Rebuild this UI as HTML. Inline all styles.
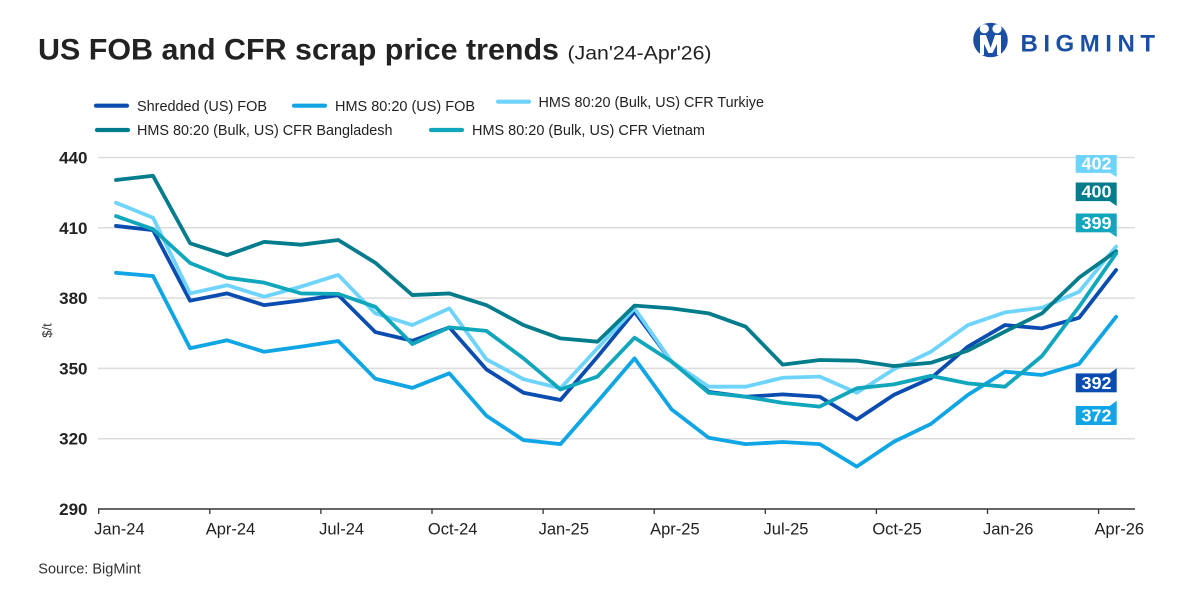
<!DOCTYPE html>
<html>
<head>
<meta charset="utf-8">
<style>
  html, body { margin:0; padding:0; background:#ffffff; }
  body { width:1200px; height:600px; overflow:hidden; }
  svg { display:block; font-family:"Liberation Sans", Arial, sans-serif; }
</style>
</head>
<body>
<svg width="1200" height="600" viewBox="0 0 1200 600" xmlns="http://www.w3.org/2000/svg">
  <rect x="0" y="0" width="1200" height="600" fill="#ffffff"/>

  <!-- Title -->
  <text x="38" y="59.5" font-size="30" font-weight="bold" fill="#222222" textLength="521" lengthAdjust="spacingAndGlyphs">US FOB and CFR scrap price trends</text>
  <text x="567.5" y="59.5" font-size="19.5" fill="#222222" textLength="144" lengthAdjust="spacingAndGlyphs">(Jan'24-Apr'26)</text>

  <!-- Logo -->
  <g>
    <circle cx="990.5" cy="40" r="17.3" fill="#1a4fa3"/>
    <circle cx="984.3" cy="28.8" r="4.6" fill="#ffffff"/>
    <circle cx="997" cy="28.8" r="4.6" fill="#ffffff"/>
    <path d="M980 35 L986 35 L990.6 48 L995 35 L1001 35 L1001 55 L997 55 L997 44 L992.5 53 L988.5 53 L984 44 L984 55 L980 55 Z" fill="#ffffff"/>
    <text x="1020.5" y="51.7" font-size="24" font-weight="bold" fill="#1a4fa3" textLength="134.5" lengthAdjust="spacing">BIGMINT</text>
  </g>

  <!-- Legend -->
  <g stroke-width="4.2" stroke-linecap="round">
    <line x1="96" y1="105.7" x2="127" y2="105.7" stroke="#0a4cb0"/>
    <line x1="294" y1="105.7" x2="325" y2="105.7" stroke="#10a5e4"/>
    <line x1="498" y1="101.7" x2="529" y2="101.7" stroke="#6fd4fc"/>
    <line x1="97" y1="130" x2="128" y2="130" stroke="#037c8c"/>
    <line x1="431" y1="130" x2="462" y2="130" stroke="#10a6bb"/>
  </g>
  <g font-size="14.5" fill="#222222">
    <text x="137" y="110.8" textLength="130" lengthAdjust="spacingAndGlyphs">Shredded (US) FOB</text>
    <text x="335" y="110.8" textLength="140" lengthAdjust="spacingAndGlyphs">HMS 80:20 (US) FOB</text>
    <text x="538.5" y="106.8" textLength="225.5" lengthAdjust="spacingAndGlyphs">HMS 80:20 (Bulk, US) CFR Turkiye</text>
    <text x="137" y="135" textLength="255.5" lengthAdjust="spacingAndGlyphs">HMS 80:20 (Bulk, US) CFR Bangladesh</text>
    <text x="472" y="135" textLength="233" lengthAdjust="spacingAndGlyphs">HMS 80:20 (Bulk, US) CFR Vietnam</text>
  </g>

  <!-- Gridlines -->
  <g stroke="#dcdcdc" stroke-width="1.5">
    <line x1="98" y1="157.5" x2="1135" y2="157.5"/>
    <line x1="98" y1="227.8" x2="1135" y2="227.8"/>
    <line x1="98" y1="298.1" x2="1135" y2="298.1"/>
    <line x1="98" y1="368.4" x2="1135" y2="368.4"/>
    <line x1="98" y1="438.7" x2="1135" y2="438.7"/>
  </g>

  <!-- Y axis labels -->
  <g font-size="17" font-weight="bold" fill="#222222" text-anchor="end">
    <text x="87.5" y="163.5">440</text>
    <text x="87.5" y="233.8">410</text>
    <text x="87.5" y="304.1">380</text>
    <text x="87.5" y="374.4">350</text>
    <text x="87.5" y="444.7">320</text>
    <text x="87.5" y="515">290</text>
  </g>
  <text transform="translate(51.5,330.5) rotate(-90)" font-size="13" fill="#333333" text-anchor="middle">$/t</text>

  <!-- X axis -->
  <line x1="98" y1="509" x2="1135" y2="509" stroke="#333333" stroke-width="1.6"/>
  <g stroke="#333333" stroke-width="1.3">
    <line x1="98.7" y1="509" x2="98.7" y2="514"/>
    <line x1="209.8" y1="509" x2="209.8" y2="514"/>
    <line x1="320.9" y1="509" x2="320.9" y2="514"/>
    <line x1="432" y1="509" x2="432" y2="514"/>
    <line x1="543.1" y1="509" x2="543.1" y2="514"/>
    <line x1="654.2" y1="509" x2="654.2" y2="514"/>
    <line x1="765.3" y1="509" x2="765.3" y2="514"/>
    <line x1="876.4" y1="509" x2="876.4" y2="514"/>
    <line x1="987.5" y1="509" x2="987.5" y2="514"/>
    <line x1="1098.6" y1="509" x2="1098.6" y2="514"/>
  </g>
  <g font-size="16.5" fill="#222222" text-anchor="middle">
    <text x="119.4" y="534.5">Jan-24</text>
    <text x="230.5" y="534.5">Apr-24</text>
    <text x="341.6" y="534.5">Jul-24</text>
    <text x="452.7" y="534.5">Oct-24</text>
    <text x="563.8" y="534.5">Jan-25</text>
    <text x="674.9" y="534.5">Apr-25</text>
    <text x="786" y="534.5">Jul-25</text>
    <text x="897.1" y="534.5">Oct-25</text>
    <text x="1008.2" y="534.5">Jan-26</text>
    <text x="1119.3" y="534.5">Apr-26</text>
  </g>

  <!-- Series -->
  <g transform="matrix(37.04 0 0 -2.3433 116 1188.56)" fill="none" stroke-width="3.8" stroke-linejoin="round" stroke-linecap="round">
    <polyline vector-effect="non-scaling-stroke" stroke="#0a4cb0" points="0,410.8 1,409 2,378.9 3,382 4,377 5,379 6,381.3 7,365.5 8,361.8 9,367.5 10,349.6 11,339.6 12,336.5 13,355 14,374.2 15,352.9 16,340 17,337.9 18,338.9 19,337.9 20,328.2 21,338.7 22,345.8 23,359.3 24,368.5 25,367.1 26,371.6 27,392"/>
    <polyline vector-effect="non-scaling-stroke" stroke="#10a5e4" points="0,390.8 1,389.4 2,358.6 3,362 4,357.1 5,359.3 6,361.7 7,345.6 8,341.7 9,347.9 10,329.8 11,319.4 12,317.7 13,335.8 14,354.3 15,332.5 16,320.4 17,317.7 18,318.6 19,317.7 20,308.1 21,318.7 22,326.3 23,338.7 24,348.6 25,347.2 26,351.9 27,372"/>
    <polyline vector-effect="non-scaling-stroke" stroke="#6fd4fc" points="0,420.7 1,414.3 2,382 3,385.5 4,380.6 5,384.9 6,389.9 7,373.5 8,368.5 9,375.6 10,353.9 11,345.4 12,341.5 13,358.6 14,375.6 15,352.9 16,342.2 17,342.2 18,346 19,346.5 20,339.6 21,349.6 22,357.1 23,368.5 24,373.9 25,375.9 26,382.7 27,402"/>
    <polyline vector-effect="non-scaling-stroke" stroke="#037c8c" points="0,430.4 1,432.2 2,403.4 3,398.3 4,404 5,402.8 6,404.8 7,395.1 8,381.3 9,382 10,377 11,368.5 12,362.8 13,361.4 14,376.8 15,375.6 16,373.5 17,367.8 18,351.6 19,353.6 20,353.3 21,351 22,352.4 23,357.6 24,365.7 25,373.5 26,388.7 27,400"/>
    <polyline vector-effect="non-scaling-stroke" stroke="#10a6bb" points="0,415 1,409.4 2,395 3,388.7 4,386.6 5,382 6,381.8 7,376.3 8,360.4 9,367.5 10,366 11,354.3 12,341 13,346.5 14,363.1 15,352.9 16,339.6 17,337.9 18,335.3 19,333.7 20,341.5 21,343.2 22,346.8 23,343.6 24,342.2 25,355.3 26,376.3 27,399"/>
  </g>

  <!-- End value labels -->
  <g font-size="17.5" font-weight="bold" fill="#ffffff" text-anchor="middle">
    <rect x="1075.7" y="155" width="41" height="17.9" fill="#6fd4fc"/>
    <polygon points="1109.5,172.8 1116.7,172.8 1116.7,177" fill="#6fd4fc"/>
    <text x="1096.5" y="169.6" textLength="30" lengthAdjust="spacingAndGlyphs">402</text>

    <rect x="1075.7" y="182.5" width="41" height="18.6" fill="#037c8c"/>
    <polygon points="1109.5,201 1116.7,201 1116.7,206" fill="#037c8c"/>
    <text x="1096.5" y="197.6" textLength="30" lengthAdjust="spacingAndGlyphs">400</text>

    <rect x="1075.7" y="213.5" width="41" height="18.8" fill="#10a6bb"/>
    <polygon points="1109.5,232.2 1116.7,232.2 1116.7,237" fill="#10a6bb"/>
    <text x="1096.5" y="228.8" textLength="30" lengthAdjust="spacingAndGlyphs">399</text>

    <rect x="1075.7" y="373.4" width="41" height="18.9" fill="#0a4cb0"/>
    <polygon points="1109.5,373.5 1116.7,373.5 1116.7,368.3" fill="#0a4cb0"/>
    <text x="1096.5" y="389" textLength="30" lengthAdjust="spacingAndGlyphs">392</text>

    <rect x="1075.7" y="406" width="41" height="19" fill="#10a5e4"/>
    <polygon points="1109.5,406.1 1116.7,406.1 1116.7,400.7" fill="#10a5e4"/>
    <text x="1096.5" y="421.7" textLength="30" lengthAdjust="spacingAndGlyphs">372</text>
  </g>

  <!-- Source -->
  <text x="38.3" y="573.5" font-size="14.5" fill="#333333" textLength="102.5" lengthAdjust="spacingAndGlyphs">Source: BigMint</text>
</svg>
</body>
</html>
